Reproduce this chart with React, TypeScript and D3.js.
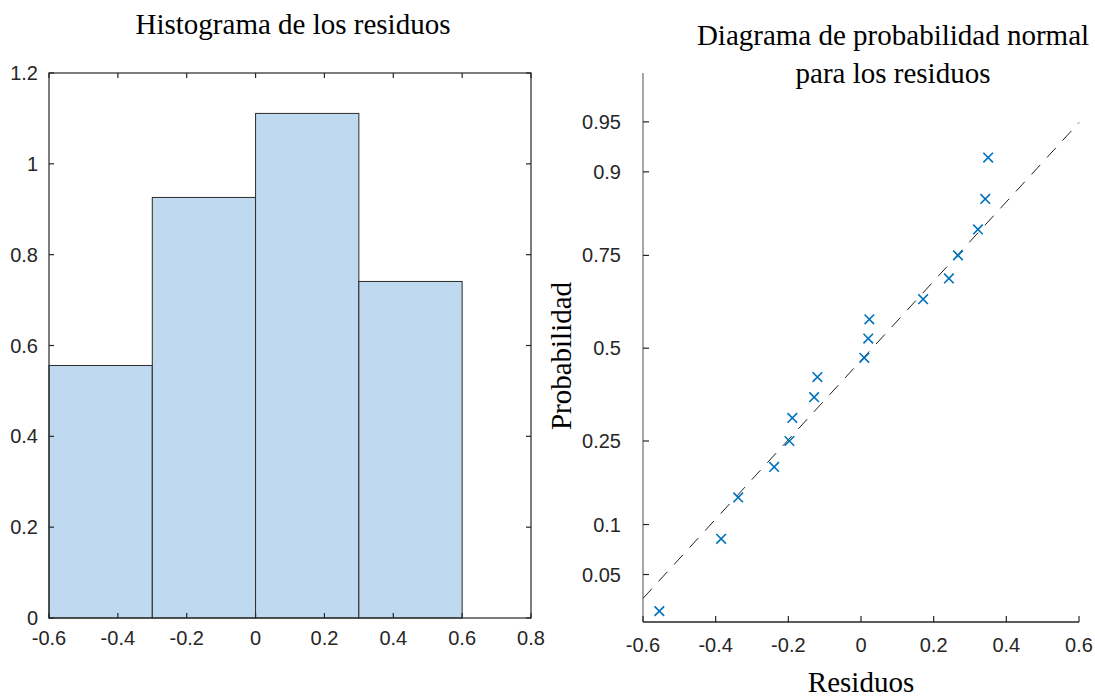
import React from "react";
import * as d3 from "d3";

// histogram of residuals (pdf normalisation)
const binEdges = [-0.6, -0.3, 0, 0.3, 0.6];
const binDensity = [0.556, 0.926, 1.111, 0.741];
const histXTicks = [-0.6, -0.4, -0.2, 0, 0.2, 0.4, 0.6, 0.8];
const histYTicks = [0, 0.2, 0.4, 0.6, 0.8, 1, 1.2];

// normal probability plot
const residuals = [
  -0.555, -0.385, -0.338, -0.239, -0.197, -0.189, -0.129, -0.12, 0.009,
  0.02, 0.023, 0.171, 0.242, 0.267, 0.322, 0.342, 0.35,
];
const probabilities = [
  0.028, 0.083, 0.139, 0.194, 0.25, 0.306, 0.361, 0.417, 0.472, 0.528,
  0.583, 0.639, 0.694, 0.75, 0.806, 0.861, 0.917,
];
const probTicks = [0.05, 0.1, 0.25, 0.5, 0.75, 0.9, 0.95];
const probTickLabels = ["0.05", "0.1", "0.25", "0.5", "0.75", "0.9", "0.95"];
const resXTicks = [-0.6, -0.4, -0.2, 0, 0.2, 0.4, 0.6];
const fitMu = 0.031;
const fitSigma = 0.347;

// inverse normal cdf (Acklam)
function probit(p: number) {
  const a = [-39.69683028665376, 220.9460984245205, -275.9285104469687, 138.357751867269, -30.66479806614716, 2.506628277459239];
  const b = [-54.47609879822406, 161.5858368580409, -155.6989798598866, 66.80131188771972, -13.28068155288572];
  const c = [-0.007784894002430293, -0.3223964580411365, -2.400758277161838, -2.549732539343734, 4.374664141464968, 2.938163982698783];
  const d = [0.007784695709041462, 0.3224671290700398, 2.445134137142996, 3.754408661907416];
  const pl = 0.02425;
  let q, r;
  if (p < pl) {
    q = Math.sqrt(-2 * Math.log(p));
    return (((((c[0] * q + c[1]) * q + c[2]) * q + c[3]) * q + c[4]) * q + c[5]) / ((((d[0] * q + d[1]) * q + d[2]) * q + d[3]) * q + 1);
  }
  if (p > 1 - pl) {
    q = Math.sqrt(-2 * Math.log(1 - p));
    return -(((((c[0] * q + c[1]) * q + c[2]) * q + c[3]) * q + c[4]) * q + c[5]) / ((((d[0] * q + d[1]) * q + d[2]) * q + d[3]) * q + 1);
  }
  q = p - 0.5;
  r = q * q;
  return ((((((a[0] * r + a[1]) * r + a[2]) * r + a[3]) * r + a[4]) * r + a[5]) * q) / (((((b[0] * r + b[1]) * r + b[2]) * r + b[3]) * r + b[4]) * r + 1);
}

const axisColor = "#262626";
const sans = "'Liberation Sans', Arial, sans-serif";
const serif = "'Liberation Serif', 'Times New Roman', serif";
const fmt = (t: number) => String(+t.toFixed(1));

const Histogram = () => {
  const left = 49, right = 531, top = 73, bottom = 618;
  const x = d3.scaleLinear().domain([-0.6, 0.8]).range([left, right]);
  const y = d3.scaleLinear().domain([0, 1.2]).range([bottom, top]);
  const tl = 5;
  return (
    <g>
      <text x={293} y={34} textAnchor="middle" fontFamily={serif} fontSize={29}>
        Histograma de los residuos
      </text>
      {binDensity.map((v, i) => (
        <rect
          key={i}
          x={x(binEdges[i])}
          y={y(v)}
          width={x(binEdges[i + 1]) - x(binEdges[i])}
          height={y(0) - y(v)}
          fill="#bfd9f1"
          stroke="#2b2b2b"
          strokeWidth={1}
        />
      ))}
      <rect x={left} y={top} width={right - left} height={bottom - top} fill="none" stroke={axisColor} strokeWidth={1.2} />
      {histXTicks.map((t) => (
        <g key={"x" + t}>
          <line x1={x(t)} x2={x(t)} y1={bottom} y2={bottom - tl} stroke={axisColor} strokeWidth={1.2} />
          <line x1={x(t)} x2={x(t)} y1={top} y2={top + tl} stroke={axisColor} strokeWidth={1.2} />
          <text x={x(t)} y={bottom + 27} textAnchor="middle" fontFamily={sans} fontSize={20} fill={axisColor}>
            {fmt(t)}
          </text>
        </g>
      ))}
      {histYTicks.map((t) => (
        <g key={"y" + t}>
          <line x1={left} x2={left + tl} y1={y(t)} y2={y(t)} stroke={axisColor} strokeWidth={1.2} />
          <line x1={right} x2={right - tl} y1={y(t)} y2={y(t)} stroke={axisColor} strokeWidth={1.2} />
          <text x={left - 11} y={y(t) + 7} textAnchor="end" fontFamily={sans} fontSize={20} fill={axisColor}>
            {fmt(t)}
          </text>
        </g>
      ))}
    </g>
  );
};

const ProbPlot = () => {
  const left = 643, right = 1079, top = 73, bottom = 622;
  const x = d3.scaleLinear().domain([-0.6, 0.6]).range([left, right]);
  const yz = d3.scaleLinear().domain([-1.99, 2.0]).range([bottom, top]);
  const y = (p: number) => yz(probit(p));
  const tl = 6;
  const fitLine = d3
    .line<number>()
    .x((v) => x(v))
    .y((v) => yz((v - fitMu) / fitSigma));
  const ms = 4.8;
  return (
    <g>
      <text x={893} y={45} textAnchor="middle" fontFamily={serif} fontSize={29}>
        Diagrama de probabilidad normal
      </text>
      <text x={893} y={83} textAnchor="middle" fontFamily={serif} fontSize={29}>
        para los residuos
      </text>
      <line x1={left} x2={left} y1={top} y2={bottom} stroke="#8a8a8a" strokeWidth={1.5} />
      <line x1={left} x2={right} y1={bottom} y2={bottom} stroke={axisColor} strokeWidth={1.5} />
      {resXTicks.map((t) => (
        <g key={"x" + t}>
          <line x1={x(t)} x2={x(t)} y1={bottom} y2={bottom - tl} stroke={axisColor} strokeWidth={1.2} />
          <text x={x(t)} y={bottom + 30} textAnchor="middle" fontFamily={sans} fontSize={20} fill={axisColor}>
            {fmt(t)}
          </text>
        </g>
      ))}
      {probTicks.map((t, i) => (
        <g key={"y" + t}>
          <line x1={left} x2={left + tl} y1={y(t)} y2={y(t)} stroke={axisColor} strokeWidth={1.2} />
          <text x={left - 22} y={y(t) + 7} textAnchor="end" fontFamily={sans} fontSize={20} fill={axisColor}>
            {probTickLabels[i]}
          </text>
        </g>
      ))}
      <path
        d={fitLine([-0.6, 0.6]) || ""}
        fill="none"
        stroke="#222"
        strokeWidth={1}
        strokeDasharray="13,10"
      />
      {residuals.map((r, i) => {
        const cx = x(r);
        const cy = y(probabilities[i]);
        return (
          <path
            key={i}
            d={`M${cx - ms},${cy - ms}L${cx + ms},${cy + ms}M${cx - ms},${cy + ms}L${cx + ms},${cy - ms}`}
            stroke="#0072bd"
            strokeWidth={1.6}
            fill="none"
          />
        );
      })}
      <text x={861} y={692} textAnchor="middle" fontFamily={serif} fontSize={29}>
        Residuos
      </text>
      <text
        transform={`translate(571,356) rotate(-90)`}
        textAnchor="middle"
        fontFamily={serif}
        fontSize={29}
      >
        Probabilidad
      </text>
    </g>
  );
};

export default function App() {
  return (
    <svg
      width={1095}
      height={699}
      style={{ position: "absolute", left: 0, top: 0, background: "#fff" }}
    >
      <rect width={1095} height={699} fill="#fff" />
      <Histogram />
      <ProbPlot />
    </svg>
  );
}
